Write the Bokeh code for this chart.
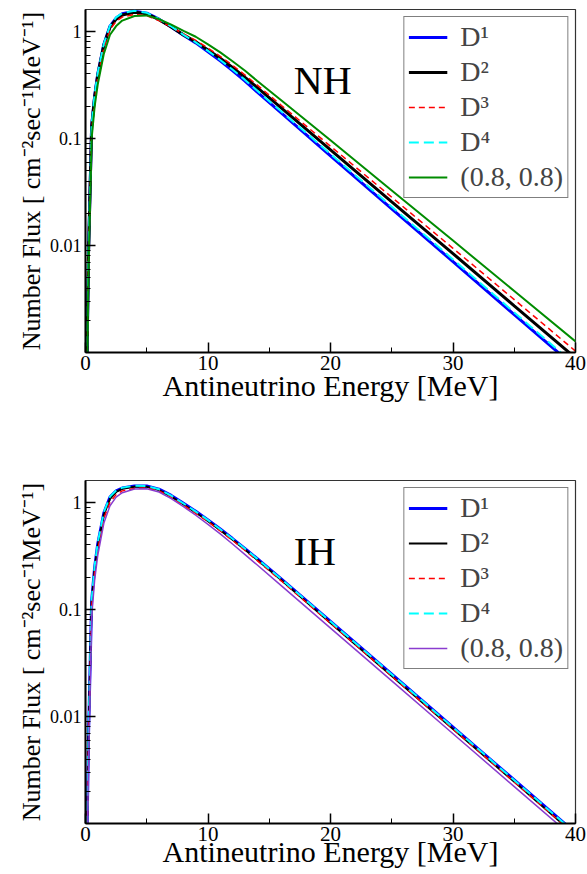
from bokeh.plotting import figure
from bokeh.models import (Range1d, FixedTicker, CustomJSTickFormatter, Legend,
                          LegendItem, Label)
from bokeh.layouts import column
from bokeh.embed import file_html
from bokeh.resources import INLINE

# ---------------- data ----------------
energy = [0.1, 0.25, 0.5, 0.75, 1, 1.5, 2, 2.5, 3, 4, 5, 6, 7, 8, 9, 10, 11,
          12, 13, 14, 16, 20, 25, 30, 35, 40]

# Normal hierarchy (NH)
nh_d1 = [0.0006, 0.009, 0.13, 0.25, 0.40, 0.76, 1.12, 1.33, 1.46, 1.545, 1.48,
         1.30, 1.10, 0.918, 0.780, 0.645, 0.530, 0.430, 0.345, 0.272, 0.172,
         0.0687, 0.0220, 0.00706, 0.00226, 0.000726]
nh_d2 = [0.0006, 0.0088, 0.128, 0.245, 0.39, 0.745, 1.09, 1.30, 1.42, 1.51,
         1.46, 1.287, 1.10, 0.927, 0.800, 0.670, 0.560, 0.460, 0.374, 0.300,
         0.192, 0.0783, 0.0255, 0.0084, 0.00273, 0.00089]
nh_d3 = [0.0005, 0.0075, 0.115, 0.23, 0.37, 0.70, 1.04, 1.24, 1.36, 1.44,
         1.40, 1.26, 1.10, 0.946, 0.824, 0.697, 0.583, 0.482, 0.393, 0.316,
         0.203, 0.0845, 0.0282, 0.0094, 0.00312, 0.00103]
nh_d4 = [0.0006, 0.0095, 0.135, 0.26, 0.41, 0.77, 1.13, 1.35, 1.48, 1.56,
         1.49, 1.31, 1.11, 0.927, 0.790, 0.657, 0.540, 0.440, 0.354, 0.280,
         0.178, 0.0715, 0.0230, 0.0074, 0.00237, 0.00076]
nh_08 = [0.0004, 0.0065, 0.10, 0.20, 0.32, 0.62, 0.93, 1.12, 1.26, 1.39,
         1.41, 1.30, 1.155, 1.01, 0.890, 0.755, 0.636, 0.525, 0.431, 0.346,
         0.226, 0.0962, 0.0326, 0.0111, 0.00375, 0.00127]

# Inverted hierarchy (IH)
ih_d1 = [0.0005, 0.007, 0.12, 0.25, 0.41, 0.80, 1.12, 1.28, 1.36, 1.425,
         1.42, 1.33, 1.16, 0.98, 0.824, 0.685, 0.564, 0.459, 0.372, 0.299,
         0.192, 0.0773, 0.0248, 0.00794, 0.00255, 0.000817]
ih_d2 = [0.0005, 0.0068, 0.116, 0.24, 0.39, 0.77, 1.08, 1.25, 1.34, 1.40,
         1.40, 1.30, 1.13, 0.955, 0.803, 0.668, 0.550, 0.448, 0.363, 0.292,
         0.187, 0.0748, 0.0239, 0.00764, 0.00245, 0.00078]
ih_d3 = [0.0004, 0.006, 0.105, 0.22, 0.36, 0.71, 1.00, 1.18, 1.28, 1.35,
         1.36, 1.28, 1.12, 0.94, 0.79, 0.66, 0.541, 0.441, 0.357, 0.287,
         0.184, 0.0742, 0.0238, 0.00762, 0.00245, 0.00078]
ih_d4 = [0.0005, 0.0072, 0.123, 0.255, 0.42, 0.81, 1.13, 1.29, 1.37, 1.43,
         1.42, 1.325, 1.155, 0.975, 0.82, 0.682, 0.561, 0.457, 0.370, 0.298,
         0.191, 0.0769, 0.0247, 0.0079, 0.00254, 0.000813]
ih_08 = [0.0003, 0.004, 0.085, 0.19, 0.32, 0.64, 0.93, 1.12, 1.23, 1.33,
         1.34, 1.25, 1.085, 0.91, 0.758, 0.623, 0.508, 0.408, 0.327, 0.261,
         0.166, 0.0669, 0.0215, 0.00689, 0.00221, 0.000711]

series_labels = ["D\u00b9", "D\u00b2", "D\u00b3", "D\u2074", "(0.8, 0.8)"]

x_ticks = [0, 10, 20, 30, 40]
x_minor_ticks = [5, 15, 25, 35]
y_ticks = [0.01, 0.1, 1]
y_minor_ticks = [0.002, 0.003, 0.004, 0.005, 0.006, 0.007, 0.008, 0.009,
                 0.02, 0.03, 0.04, 0.05, 0.06, 0.07, 0.08, 0.09,
                 0.2, 0.3, 0.4, 0.5, 0.6, 0.7, 0.8, 0.9]

FONT = "Liberation Serif"
FONT_AX = "'Liberation Serif'"


def make_panel(ys, colors, widths, dashes, tag, height, b_top, b_bottom,
               xlabel_standoff):
    p = figure(width=587, height=height, x_range=Range1d(0, 40),
               y_range=Range1d(0.001, 1.6), y_axis_type="log",
               output_backend="svg", toolbar_location=None,
               min_border_left=85, min_border_right=12,
               min_border_top=b_top, min_border_bottom=b_bottom)
    p.grid.visible = False
    p.outline_line_color = "#333333"
    p.outline_line_width = 1.2
    p.background_fill_color = "white"
    p.border_fill_color = "white"

    xa = p.xaxis[0]
    xa.ticker = FixedTicker(ticks=x_ticks, minor_ticks=x_minor_ticks)
    ya = p.yaxis[0]
    ya.ticker = FixedTicker(ticks=y_ticks, minor_ticks=y_minor_ticks)
    ya.formatter = CustomJSTickFormatter(code="return tick.toString();")
    for ax in (xa, ya):
        ax.axis_line_color = "black"
        ax.axis_line_width = 2
        ax.major_tick_in = 10
        ax.major_tick_out = 0
        ax.minor_tick_in = 5
        ax.minor_tick_out = 0
        ax.major_tick_line_color = "black"
        ax.minor_tick_line_color = "black"
        ax.major_tick_line_width = 1.5
        ax.minor_tick_line_width = 1
        ax.major_label_text_font = FONT_AX
        ax.major_label_text_color = "black"
        ax.axis_label_text_font = FONT_AX
        ax.axis_label_text_font_style = "normal"
        ax.axis_label_text_color = "black"
    xa.major_label_text_font_size = "21px"
    ya.major_label_text_font_size = "18px"
    xa.major_label_standoff = 3
    ya.major_label_standoff = 4
    xa.axis_label = "Antineutrino Energy [MeV]"
    xa.axis_label_text_font_size = "30px"
    xa.axis_label_standoff = xlabel_standoff
    ya.axis_label = "Number Flux [ cm\u207b\u00b2sec\u207b\u00b9MeV\u207b\u00b9]"
    ya.axis_label_text_font_size = "26px"
    ya.axis_label_standoff = 1

    items = []
    for y, c, w, d, lab in zip(ys, colors, widths, dashes, series_labels):
        r = p.line(energy, y, line_color=c, line_width=w, line_dash=d)
        items.append(LegendItem(label=lab, renderers=[r]))

    legend = Legend(items=items, location="top_right", margin=7, padding=4,
                    spacing=3, glyph_width=39, glyph_height=30,
                    label_height=30, label_standoff=13,
                    label_text_font=FONT, label_text_font_size="28px",
                    border_line_color="black", border_line_width=1,
                    background_fill_color="white", background_fill_alpha=1)
    p.add_layout(legend)

    p.add_layout(Label(x=17, y=0.35, text=tag, text_font=FONT,
                       text_font_size="40px", text_baseline="alphabetic",
                       text_color="black"))
    return p


p1 = make_panel([nh_d1, nh_d2, nh_d3, nh_d4, nh_08],
                ["#0000ff", "black", "#ff0000", "#00ffff", "#008c00"],
                [3, 3, 1.5, 2, 2],
                ["solid", "solid", "6 4", "10 5", "solid"],
                "NH", 440, 9, 88, -4)
p2 = make_panel([ih_d1, ih_d2, ih_d3, ih_d4, ih_08],
                ["#0000ff", "black", "#ff0000", "#00ffff", "#8a3ccf"],
                [3, 2, 1.5, 2, 1.5],
                ["solid", "solid", "6 4", "10 5", "solid"],
                "IH", 434, 40, 51, -9)

layout = column(p1, p2)
open("out.html", "w").write(file_html(layout, INLINE))
